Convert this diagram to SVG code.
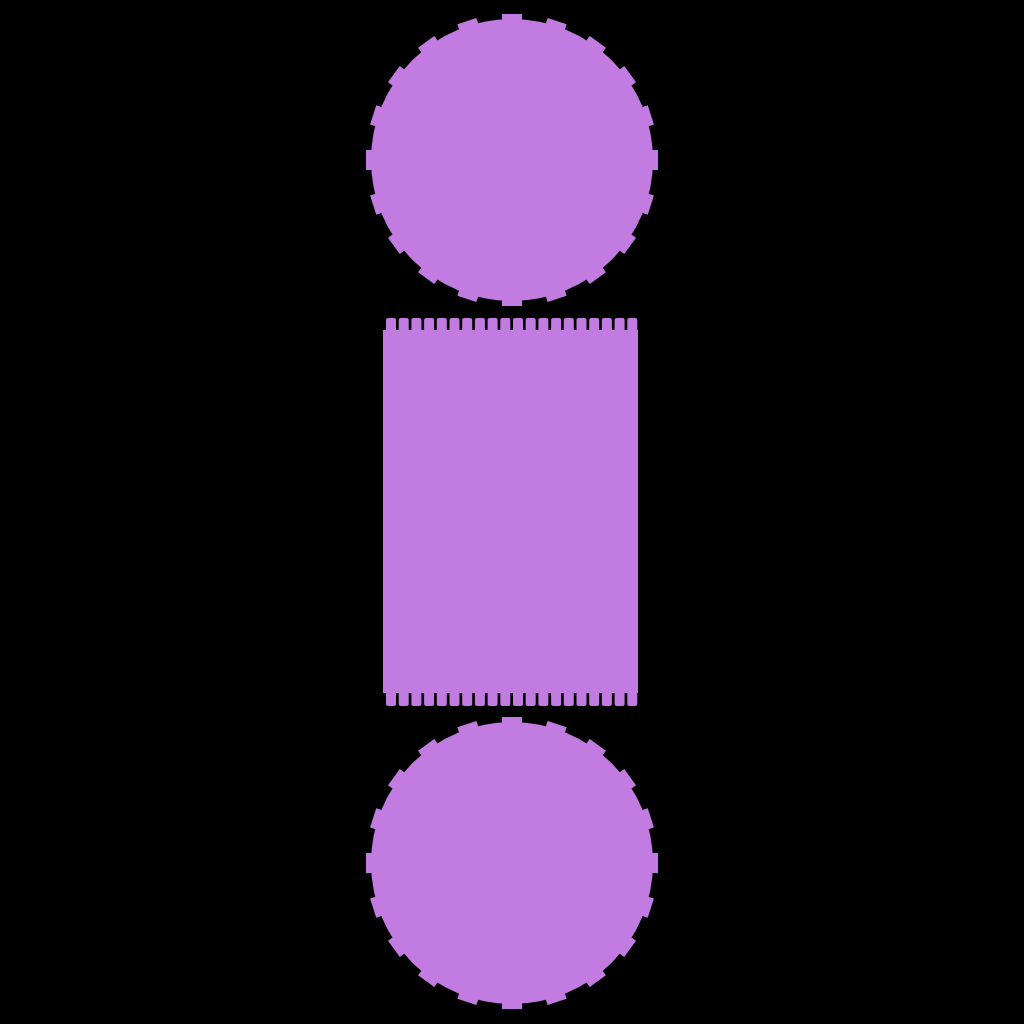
<svg xmlns="http://www.w3.org/2000/svg" xmlns:xlink="http://www.w3.org/1999/xlink" width="1024" height="1024" viewBox="0 0 1024 1024">
<defs>
<style>.p{fill:#c27be0}</style>
<rect id="gt" x="-10" y="-146" width="20" height="12" class="p"/>
<g id="gear">
<circle r="141" class="p"/>
<use xlink:href="#gt" transform="rotate(0)"/><use xlink:href="#gt" transform="rotate(18)"/><use xlink:href="#gt" transform="rotate(36)"/><use xlink:href="#gt" transform="rotate(54)"/><use xlink:href="#gt" transform="rotate(72)"/><use xlink:href="#gt" transform="rotate(90)"/><use xlink:href="#gt" transform="rotate(108)"/><use xlink:href="#gt" transform="rotate(126)"/><use xlink:href="#gt" transform="rotate(144)"/><use xlink:href="#gt" transform="rotate(162)"/><use xlink:href="#gt" transform="rotate(180)"/><use xlink:href="#gt" transform="rotate(198)"/><use xlink:href="#gt" transform="rotate(216)"/><use xlink:href="#gt" transform="rotate(234)"/><use xlink:href="#gt" transform="rotate(252)"/><use xlink:href="#gt" transform="rotate(270)"/><use xlink:href="#gt" transform="rotate(288)"/><use xlink:href="#gt" transform="rotate(306)"/><use xlink:href="#gt" transform="rotate(324)"/><use xlink:href="#gt" transform="rotate(342)"/>
</g>
<rect id="rt" x="0" y="0" width="10" height="20" rx="2" class="p"/>
<g id="teeth">
<use xlink:href="#rt" x="386"/><use xlink:href="#rt" x="398.7"/><use xlink:href="#rt" x="411.4"/><use xlink:href="#rt" x="424.1"/><use xlink:href="#rt" x="436.8"/><use xlink:href="#rt" x="449.5"/><use xlink:href="#rt" x="462.2"/><use xlink:href="#rt" x="474.9"/><use xlink:href="#rt" x="487.6"/><use xlink:href="#rt" x="500.3"/><use xlink:href="#rt" x="513"/><use xlink:href="#rt" x="525.7"/><use xlink:href="#rt" x="538.4"/><use xlink:href="#rt" x="551.1"/><use xlink:href="#rt" x="563.8"/><use xlink:href="#rt" x="576.5"/><use xlink:href="#rt" x="589.2"/><use xlink:href="#rt" x="601.9"/><use xlink:href="#rt" x="614.6"/><use xlink:href="#rt" x="627.3"/>
</g>
</defs>
<rect width="1024" height="1024" fill="#000"/>
<g id="gear-top"><use xlink:href="#gear" transform="translate(512,160)"/></g>
<g id="rack">
<rect x="383" y="330" width="255" height="363" class="p"/>
<use xlink:href="#teeth" transform="translate(0,318)"/>
<use xlink:href="#teeth" transform="translate(0,686)"/>
</g>
<g id="gear-bottom"><use xlink:href="#gear" transform="translate(512,863)"/></g>
</svg>
